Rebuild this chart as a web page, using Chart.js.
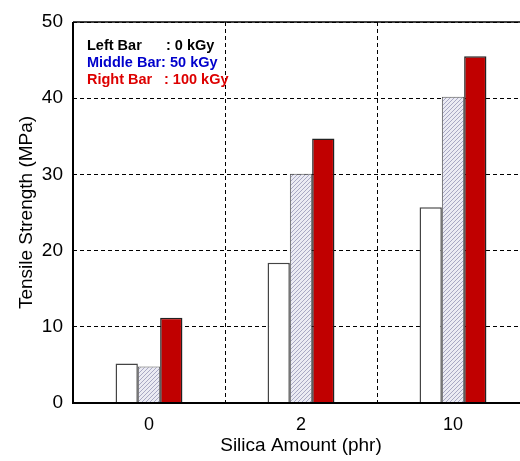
<!DOCTYPE html>
<html>
<head>
<meta charset="utf-8">
<script src="https://cdn.jsdelivr.net/npm/chart.js@4/dist/chart.umd.min.js"></script>
<style>
  html, body { margin: 0; padding: 0; overflow: hidden; background: #fff; }
  #wrap { width: 530px; height: 461px; }
</style>
</head>
<body>
<div id="wrap"><canvas id="chart" width="530" height="461"></canvas></div>
<script>
// Silica amounts and tensile strength for each dose
const silica = ["0", "2", "10"];
const dose0 = [5.2, 18.4, 25.7];
const dose50 = [4.8, 30.1, 40.2];
const dose100 = [11.2, 34.7, 45.5];
const yTicks = [0, 10, 20, 30, 40, 50];

const FONT = "'Liberation Sans', Arial, sans-serif";

// diagonal hatch for the middle bar
function hatch() {
  const c = document.createElement("canvas");
  c.width = 4; c.height = 4;
  const g = c.getContext("2d");
  g.fillStyle = "#ebebf3";
  g.fillRect(0, 0, 4, 4);
  g.strokeStyle = "#a8a8c4";
  g.lineWidth = 1;
  g.beginPath();
  g.moveTo(0, 4); g.lineTo(4, 0);
  g.moveTo(-1, 1); g.lineTo(1, -1);
  g.moveTo(3, 5); g.lineTo(5, 3);
  g.stroke();
  return g.createPattern(c, "repeat");
}

// frame and dose notes
const frame = {
  id: "frame",
  afterDraw(chart) {
    const { ctx, chartArea: a } = chart;
    ctx.save();
    ctx.strokeStyle = "#000";
    ctx.lineWidth = 1.5;
    ctx.beginPath();
    ctx.moveTo(a.left, a.top); ctx.lineTo(a.right, a.top);
    ctx.stroke();
    ctx.lineWidth = 2;
    ctx.beginPath();
    ctx.moveTo(a.left, a.top); ctx.lineTo(a.left, a.bottom); ctx.lineTo(a.right, a.bottom);
    ctx.stroke();

    ctx.font = "bold 14.5px " + FONT;
    ctx.textBaseline = "middle";
    ctx.fillStyle = "#000";
    ctx.fillText("Left Bar", 87, 46);
    ctx.fillText(": 0 kGy", 166, 46);
    ctx.fillStyle = "#0000cc";
    ctx.fillText("Middle Bar: 50 kGy", 87, 63);
    ctx.fillStyle = "#dd0000";
    ctx.fillText("Right Bar", 87, 80);
    ctx.fillText(": 100 kGy", 164, 80);
    ctx.restore();
  }
};

new Chart(document.getElementById("chart"), {
  type: "bar",
  data: {
    labels: silica,
    datasets: [
      { label: "0 kGy", data: dose0, backgroundColor: "#fff", borderColor: "#444", borderWidth: 1.5 },
      { label: "50 kGy", data: dose50, backgroundColor: hatch(), borderColor: "#555", borderWidth: 1 },
      { label: "100 kGy", data: dose100, backgroundColor: "#c00000", borderColor: "#222", borderWidth: 1.5 }
    ]
  },
  plugins: [frame],
  options: {
    responsive: false,
    animation: false,
    layout: { padding: { top: 22, right: 1, left: 11, bottom: 0 } },
    datasets: { bar: { categoryPercentage: 0.44, barPercentage: 1 } },
    plugins: { legend: { display: false }, tooltip: { enabled: false } },
    scales: {
      x: {
        afterFit(s) { s.height = 58; },
        grid: { offset: true, color: "#000", lineWidth: 1, drawTicks: false },
        border: { display: false, dash: [4, 3] },
        ticks: { color: "#000", font: { family: FONT, size: 18 }, padding: 11 },
        title: { display: true, text: "Silica Amount (phr)", color: "#000", font: { family: FONT, size: 19 }, padding: { top: 0 } }
      },
      y: {
        min: 0, max: 50,
        afterFit(s) { s.width = 62; },
        afterBuildTicks(s) { s.ticks = yTicks.map(v => ({ value: v })); },
        grid: { color: "#000", lineWidth: 1, drawTicks: false },
        border: { display: false, dash: [4, 3] },
        ticks: { color: "#000", font: { family: FONT, size: 19 }, padding: 10 },
        title: { display: true, text: "Tensile Strength (MPa)", color: "#000", font: { family: FONT, size: 19 }, padding: { bottom: 0 } }
      }
    }
  }
});
</script>
</body>
</html>
